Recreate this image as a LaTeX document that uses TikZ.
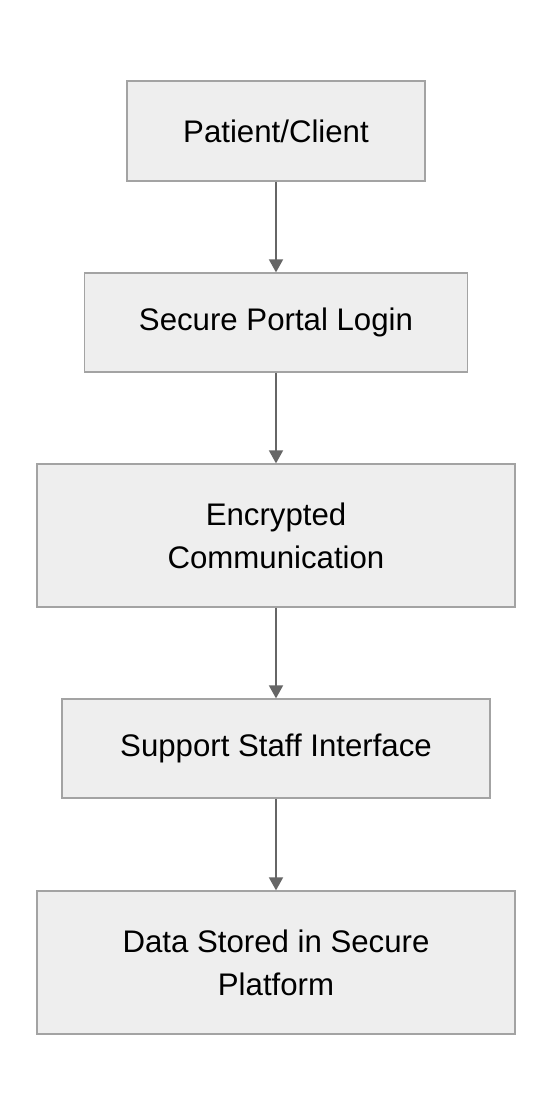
\documentclass[tikz,border=0pt]{standalone}
\usepackage{fontspec}
\setmainfont{Liberation Sans}
\usetikzlibrary{arrows.meta}
\definecolor{boxfill}{HTML}{EEEEEE}
\definecolor{boxline}{HTML}{A3A3A3}
\definecolor{arrowc}{HTML}{666666}
\begin{document}
\begin{tikzpicture}[x=1pt,y=-1pt,
  flowbox/.style={draw=boxline,fill=boxfill,line width=1.3pt,inner sep=0pt,align=center,
    font=\fontsize{31.2}{43}\selectfont},
  flowarrow/.style={draw=arrowc,line width=1.8pt,-{Triangle[length=13pt,width=14pt]}}]
\useasboundingbox (0,0) rectangle (552,1116);
\fill[white] (0,0) rectangle (552,1116);
\node[flowbox,minimum width=298pt,minimum height=100pt] (a) at (276,131) {Patient/Client};
\node[flowbox,minimum width=383pt,minimum height=99pt] (b) at (276,322.5) {Secure Portal Login};
\node[flowbox,minimum width=478pt,minimum height=143pt] (c) at (276,535.5) {Encrypted\\Communication};
\node[flowbox,minimum width=428pt,minimum height=99pt] (d) at (276,748.5) {Support Staff Interface};
\node[flowbox,minimum width=478pt,minimum height=143pt] (e) at (276,962.5) {Data Stored in Secure\\Platform};
\draw[flowarrow] (a) -- (b);
\draw[flowarrow] (b) -- (c);
\draw[flowarrow] (c) -- (d);
\draw[flowarrow] (d) -- (e);
\end{tikzpicture}
\end{document}
